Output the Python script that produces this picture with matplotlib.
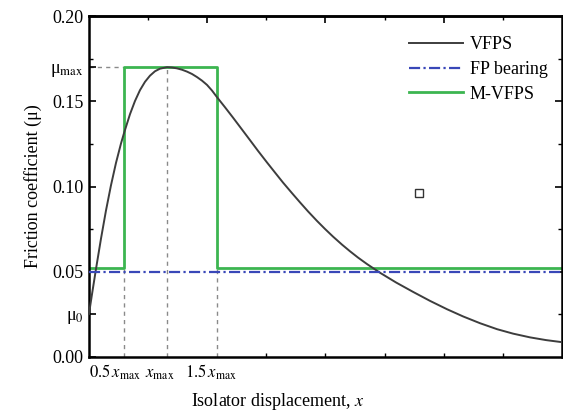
import matplotlib
matplotlib.use("Agg")
import matplotlib.pyplot as plt
import matplotlib.transforms as mtransforms

plt.rcParams['font.family'] = ['Liberation Serif', 'DejaVu Serif']
plt.rcParams['mathtext.fontset'] = 'stix'

# VFPS friction curve (displacement in arbitrary units, friction coefficient)
disp_vfps = [0.0, 0.051, 0.118, 0.203, 0.288, 0.372, 0.457, 0.541, 0.592, 0.694,
             0.778, 0.863, 0.948, 1.032, 1.117, 1.201, 1.32, 1.404, 1.489, 1.574,
             1.658, 1.743, 1.827, 1.912, 1.997, 2.081, 2.166, 2.301, 2.437, 2.572,
             2.724, 2.86, 3.012, 3.147, 3.283, 3.435, 3.57, 3.706, 3.858, 3.993,
             4.129, 4.281, 4.416, 4.552, 4.704, 4.924, 5.195, 5.482, 5.77, 6.058,
             6.328, 6.616, 6.904, 7.174, 7.462, 7.733, 8.0]
mu_vfps = [0.0252, 0.0367, 0.0514, 0.0693, 0.0859, 0.1006, 0.1138, 0.1251, 0.1312, 0.1424,
           0.1501, 0.1565, 0.1614, 0.165, 0.1676, 0.1691, 0.17, 0.1698, 0.1693, 0.1685,
           0.1674, 0.166, 0.1642, 0.1621, 0.1596, 0.1563, 0.1524, 0.1465, 0.1404, 0.1342,
           0.1272, 0.1209, 0.1141, 0.1082, 0.1023, 0.0961, 0.0907, 0.0854, 0.0798, 0.0751,
           0.0706, 0.0659, 0.062, 0.0583, 0.0545, 0.0494, 0.0437, 0.0382, 0.0329, 0.028,
           0.0238, 0.0198, 0.0163, 0.0137, 0.0115, 0.0099, 0.0087]

# characteristic displacements
x_half = 0.59
x_max = 1.32
x_onehalf = 2.16
x_end = 8.0

mu_0 = 0.025
mu_max = 0.17
mu_fp = 0.05
mu_low = 0.052

# M-VFPS step values (steps-post)
disp_m = [0.0, x_half, x_onehalf, x_end]
mu_m = [mu_low, mu_max, mu_low, mu_low]

# stray marker
sq_x = [5.58]
sq_y = [0.0962]

fig = plt.figure(figsize=(5.63, 4.15), dpi=100)
ax = fig.add_axes([0.158, 0.1398, 0.84, 0.8216])

guide = dict(color='#8a8a8a', ls=(0, (3, 3)), lw=1.0, zorder=1)
ax.plot([0, x_half], [mu_max, mu_max], **guide)
ax.plot([x_half, x_half], [0, mu_low], **guide)
ax.plot([x_max, x_max], [0, mu_max], **guide)
ax.plot([x_onehalf, x_onehalf], [0, mu_low], **guide)

ax.plot(disp_vfps, mu_vfps, color='#3d3d3d', lw=1.4, label='VFPS', zorder=3)
ax.plot([0, x_end], [mu_fp, mu_fp], color='#3947b8', lw=1.6,
        ls=(0, (5, 1.5, 1, 1.5)), label='FP bearing', zorder=4)
ax.plot(disp_m, mu_m, drawstyle='steps-post', color='#3cb550', lw=2.0,
        label='M-VFPS', zorder=2)
ax.plot(sq_x, sq_y, marker='s', ms=6, mfc='white', mec='#333333', mew=1.0, ls='none')

ax.set_xlim(0, x_end)
ax.set_ylim(0, 0.2)

for s in ax.spines.values():
    s.set_linewidth(1.8)

ax.set_xticks([x_half, x_max, x_onehalf])
ax.set_xticklabels([r'$0.5\,x_{\rm max}$', r'$x_{\rm max}$', r'$1.5\,x_{\rm max}$'])
ax.set_xticks([3, 4, 5, 6, 7], minor=True)
ax.tick_params(axis='x', which='major', length=0, labelsize=12, pad=6)
ax.tick_params(axis='x', which='minor', direction='in', length=3, width=1)
# put the x labels on a common baseline and nudge them left
shifts = [-9, -7, -6]
for lab, dx in zip(ax.get_xticklabels(), shifts):
    lab.set_verticalalignment('baseline')
    lab.set_transform(lab.get_transform() +
                      mtransforms.ScaledTranslation(dx / 100, -12 / 100, fig.dpi_scale_trans))

ax.set_yticks([0.0, mu_0, 0.05, 0.10, 0.15, mu_max, 0.20])
ax.set_yticklabels(['0.00', 'μ$_0$', '0.05', '0.10', '0.15', 'μ$_{\\rm max}$', '0.20'])
ax.set_yticks([0.075, 0.125, 0.175], minor=True)
ax.tick_params(axis='y', which='major', direction='in', length=5, width=1.2, labelsize=13, pad=4)
ax.tick_params(axis='y', which='minor', direction='in', length=3, width=1)

top = ax.secondary_xaxis('top')
top.set_xticks([2, 4, 6])
top.set_xticks([1, 3, 5, 7], minor=True)
top.tick_params(which='major', direction='in', length=5, width=1.2, labeltop=False)
top.tick_params(which='minor', direction='in', length=3, width=1)
top.spines['top'].set_linewidth(1.8)

right = ax.secondary_yaxis('right')
right.set_yticks([0.05, 0.10, 0.15])
right.set_yticks([0.025, 0.075, 0.125, 0.175], minor=True)
right.tick_params(which='major', direction='in', length=5, width=1.2, labelright=False)
right.tick_params(which='minor', direction='in', length=3, width=1)

ax.set_xlabel(r'Isolator displacement, $x$', fontsize=13)
ax.xaxis.set_label_coords(0.40, -0.10)
ax.set_ylabel('Friction coefficient (μ)', fontsize=13, labelpad=6)

ax.legend(loc='upper left', bbox_to_anchor=(0.677, 0.94), frameon=False,
          fontsize=13, handlelength=3.0, handletextpad=0.35, labelspacing=0.42,
          borderaxespad=0, borderpad=0)

fig.savefig('out.png', dpi=100)
